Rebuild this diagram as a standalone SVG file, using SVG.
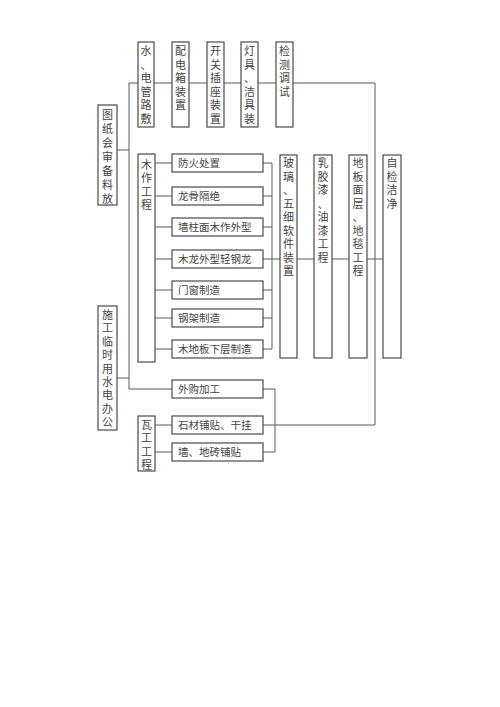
<svg xmlns="http://www.w3.org/2000/svg" width="500" height="707" viewBox="0 0 500 707">
<style>
.bx{fill:#fff;stroke:#4a4a4a;stroke-width:1.2}
.ln{fill:none;stroke:#5a5a5a;stroke-width:1}
.t{font-family:"Noto Sans CJK SC","Noto Sans",sans-serif;font-size:10.5px;fill:#444}
.v{text-anchor:middle;font-size:11px}
</style>
<rect width="500" height="707" fill="#fff"/>
<g id="connectors">
<path class="ln" d="M129 83 V389 H172"/>
<path class="ln" d="M129 83 H375 V425 H263"/>
<path class="ln" d="M117 150 H129"/>
<path class="ln" d="M117 378 H129"/>
<path class="ln" d="M155 163 H172 M155 196 H172 M155 227 H172 M155 259 H172 M155 290 H172 M155 318 H172 M155 349 H172"/>
<path class="ln" d="M263 163 H272 M263 196 H272 M263 227 H272 M263 290 H272 M263 318 H272 M263 349 H272 M272 163 V349"/>
<path class="ln" d="M263 259 H280 M297 259 H314 M332 259 H349 M367 259 H383"/>
<path class="ln" d="M263 389 H275 V452 H263"/>
<path class="ln" d="M155 425 H172 M155 452 H172"/>
</g>
<g id="n-tuzhi"><rect class="bx" x="98" y="105" width="19" height="100"/>
<text class="t v"><tspan x="107.5" y="119">图</tspan><tspan x="107.5" dy="14">纸</tspan><tspan x="107.5" dy="14">会</tspan><tspan x="107.5" dy="14">审</tspan><tspan x="107.5" dy="14">备</tspan><tspan x="107.5" dy="14">料</tspan><tspan x="107.5" dy="14">放</tspan></text></g>
<g id="n-shigong"><rect class="bx" x="98" y="306" width="19" height="124"/>
<text class="t v"><tspan x="107.5" y="319">施</tspan><tspan x="107.5" dy="13.4">工</tspan><tspan x="107.5" dy="13.4">临</tspan><tspan x="107.5" dy="13.4">时</tspan><tspan x="107.5" dy="13.4">用</tspan><tspan x="107.5" dy="13.4">水</tspan><tspan x="107.5" dy="13.4">电</tspan><tspan x="107.5" dy="13.4">办</tspan><tspan x="107.5" dy="13.4">公</tspan></text></g>
<g id="n-shuidian"><rect class="bx" x="138" y="42" width="16" height="85"/>
<text class="t v"><tspan x="146" y="55">水</tspan><tspan x="146" dy="13.6">、</tspan><tspan x="146" dy="13.6">电</tspan><tspan x="146" dy="13.6">管</tspan><tspan x="146" dy="13.6">路</tspan><tspan x="146" dy="13.6">敷</tspan></text></g>
<g id="n-peidian"><rect class="bx" x="172" y="42" width="17" height="85"/>
<text class="t v"><tspan x="180.5" y="55">配</tspan><tspan x="180.5" dy="13.6">电</tspan><tspan x="180.5" dy="13.6">箱</tspan><tspan x="180.5" dy="13.6">装</tspan><tspan x="180.5" dy="13.6">置</tspan></text></g>
<g id="n-kaiguan"><rect class="bx" x="207" y="42" width="17" height="85"/>
<text class="t v"><tspan x="215.5" y="55">开</tspan><tspan x="215.5" dy="13.6">关</tspan><tspan x="215.5" dy="13.6">插</tspan><tspan x="215.5" dy="13.6">座</tspan><tspan x="215.5" dy="13.6">装</tspan><tspan x="215.5" dy="13.6">置</tspan></text></g>
<g id="n-dengju"><rect class="bx" x="241" y="42" width="17" height="85"/>
<text class="t v"><tspan x="249.5" y="55">灯</tspan><tspan x="249.5" dy="13.6">具</tspan><tspan x="249.5" dy="13.6">、</tspan><tspan x="249.5" dy="13.6">洁</tspan><tspan x="249.5" dy="13.6">具</tspan><tspan x="249.5" dy="13.6">装</tspan></text></g>
<g id="n-jiance"><rect class="bx" x="276" y="42" width="17" height="85"/>
<text class="t v"><tspan x="284.5" y="55">检</tspan><tspan x="284.5" dy="13.6">测</tspan><tspan x="284.5" dy="13.6">调</tspan><tspan x="284.5" dy="13.6">试</tspan></text></g>
<g id="n-muzuo"><rect class="bx" x="138" y="154" width="17" height="208"/>
<text class="t v"><tspan x="146.5" y="169">木</tspan><tspan x="146.5" dy="13.4">作</tspan><tspan x="146.5" dy="13.4">工</tspan><tspan x="146.5" dy="13.4">程</tspan></text></g>
<g id="n-fanghuo"><rect class="bx" x="172" y="154" width="91" height="18"/><text class="t" x="178" y="166.8">防火处置</text></g>
<g id="n-longgu"><rect class="bx" x="172" y="187" width="91" height="18"/><text class="t" x="178" y="199.8">龙骨隔绝</text></g>
<g id="n-qiangzhu"><rect class="bx" x="172" y="218" width="91" height="18"/><text class="t" x="178" y="230.8">墙柱面木作外型</text></g>
<g id="n-mulong"><rect class="bx" x="172" y="250" width="91" height="18"/><text class="t" x="178" y="262.8">木龙外型轻钢龙</text></g>
<g id="n-menchuang"><rect class="bx" x="172" y="281" width="91" height="18"/><text class="t" x="178" y="293.8">门窗制造</text></g>
<g id="n-gangjia"><rect class="bx" x="172" y="309" width="91" height="18"/><text class="t" x="178" y="321.8">钢架制造</text></g>
<g id="n-mudiban"><rect class="bx" x="172" y="340" width="91" height="18"/><text class="t" x="178" y="352.8">木地板下层制造</text></g>
<g id="n-waigou"><rect class="bx" x="172" y="380" width="91" height="18"/><text class="t" x="178" y="392.8">外购加工</text></g>
<g id="n-shicai"><rect class="bx" x="172" y="416" width="91" height="18"/><text class="t" x="178" y="428.8">石材铺贴、干挂</text></g>
<g id="n-qiangdi"><rect class="bx" x="172" y="443" width="91" height="18"/><text class="t" x="178" y="455.8">墙、地砖铺贴</text></g>
<g id="n-wagong"><rect class="bx" x="138" y="416" width="17" height="55"/>
<text class="t v"><tspan x="146.5" y="429">瓦</tspan><tspan x="146.5" dy="13.3">工</tspan><tspan x="146.5" dy="13.3">工</tspan><tspan x="146.5" dy="13.3">程</tspan></text></g>
<g id="n-boli"><rect class="bx" x="280" y="155" width="17" height="203"/>
<text class="t v"><tspan x="288.5" y="167">玻</tspan><tspan x="288.5" dy="13.5">璃</tspan><tspan x="288.5" dy="13.5">、</tspan><tspan x="288.5" dy="13.5">五</tspan><tspan x="288.5" dy="13.5">细</tspan><tspan x="288.5" dy="13.5">软</tspan><tspan x="288.5" dy="13.5">件</tspan><tspan x="288.5" dy="13.5">装</tspan><tspan x="288.5" dy="13.5">置</tspan></text></g>
<g id="n-rujiao"><rect class="bx" x="314" y="155" width="18" height="203"/>
<text class="t v"><tspan x="323" y="167">乳</tspan><tspan x="323" dy="13.5">胶</tspan><tspan x="323" dy="13.5">漆</tspan><tspan x="323" dy="13.5">、</tspan><tspan x="323" dy="13.5">油</tspan><tspan x="323" dy="13.5">漆</tspan><tspan x="323" dy="13.5">工</tspan><tspan x="323" dy="13.5">程</tspan></text></g>
<g id="n-diban"><rect class="bx" x="349" y="155" width="18" height="203"/>
<text class="t v"><tspan x="358" y="167">地</tspan><tspan x="358" dy="13.5">板</tspan><tspan x="358" dy="13.5">面</tspan><tspan x="358" dy="13.5">层</tspan><tspan x="358" dy="13.5">、</tspan><tspan x="358" dy="13.5">地</tspan><tspan x="358" dy="13.5">毯</tspan><tspan x="358" dy="13.5">工</tspan><tspan x="358" dy="13.5">程</tspan></text></g>
<g id="n-zijian"><rect class="bx" x="383" y="155" width="18" height="203"/>
<text class="t v"><tspan x="392" y="167">自</tspan><tspan x="392" dy="13.5">检</tspan><tspan x="392" dy="13.5">洁</tspan><tspan x="392" dy="13.5">净</tspan></text></g>
</svg>
